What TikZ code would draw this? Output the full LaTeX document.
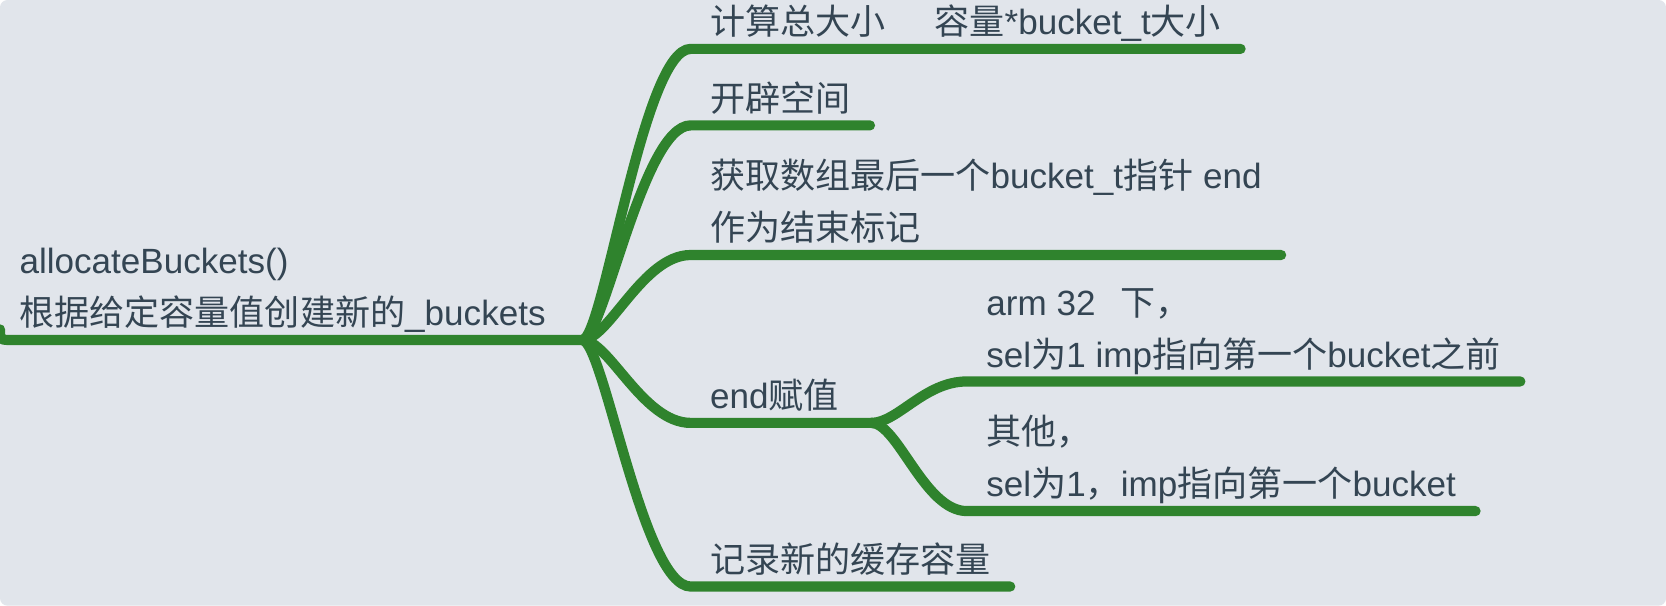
\documentclass[tikz,border=0pt]{standalone}
\usepackage{fontspec}
\setmainfont{Liberation Sans}
\newfontfamily\cjk{Noto Sans CJK SC}
\usepackage{xcolor}
\usepackage{tikz}

\definecolor{bgc}{RGB}{225,229,235}
\definecolor{branchc}{RGB}{47,131,45}
\definecolor{textc}{RGB}{52,69,83}

\begin{document}
\begin{tikzpicture}[x=0.5pt, y=-0.5pt,
		branch/.style={line width=4.8pt, branchc, line cap=round},
		topic/.style={anchor=south west, inner xsep=9pt, inner ysep=3.5pt, text depth=3pt, align=left, text=textc, font=\fontsize{16.5}{24.5}\selectfont}]
				% Background
				\fill[white] (0,0) rectangle (1568,570);
				\fill[bgc, rounded corners=3.5pt] (0,0) rectangle (1568,570);
				\useasboundingbox (0,0) rectangle (1568,570);
				
				% Root topic
				\node[topic] (root) at (0,320) {allocateBuckets()\\{\cjk 根据给定容量值创建新的}\_buckets};
				\coordinate (J) at (548,320);
				
				% Main topics
				\node[topic] (size) at (650,46) {{\cjk 计算总大小}\hspace{1.4em}{\cjk 容量}*bucket\_t{\cjk 大小}};
				\node[topic] (alloc) at (650,118) {{\cjk 开辟空间}};
				\node[topic] (endptr) at (650,240) {{\cjk 获取数组最后一个}bucket\_t{\cjk 指针} end\\{\cjk 作为结束标记}};
				\node[topic] (assign) at (650,398) {end{\cjk 赋值}};
				\coordinate (K) at (820,398);
				\node[topic] (record) at (650,552) {{\cjk 记录新的缓存容量}};
				
				% Sub topics of end
				\node[topic] (arm) at (910,359) {arm 32\hspace{0.7em}{\cjk 下，}\\sel{\cjk 为}1 imp{\cjk 指向第一个}bucket{\cjk 之前}};
				\node[topic] (other) at (910,481) {{\cjk 其他，}\\sel{\cjk 为}1{\cjk ，}imp{\cjk 指向第一个}bucket};
				
				% Root line
				\draw[branch] ([yshift=5pt]root.south west) .. controls (root.south west) .. ([xshift=6pt]root.south west) -- (J);
				
				% Branches
				\draw[branch] (J) .. controls +(20,0) and +(-45,0) .. (size.south west) -- (size.south east);
				\draw[branch] (J) .. controls +(20,0) and +(-45,0) .. (alloc.south west) -- (alloc.south east);
				\draw[branch] (J) .. controls +(25,0) and +(-45,0) .. (endptr.south west) -- (endptr.south east);
				\draw[branch] (J) .. controls +(25,0) and +(-45,0) .. (assign.south west) -- (K);
				\draw[branch] (J) .. controls +(20,0) and +(-45,0) .. (record.south west) -- (record.south east);
				\draw[branch] (K) .. controls +(25,0) and +(-40,0) .. (arm.south west) -- (arm.south east);
				\draw[branch] (K) .. controls +(25,0) and +(-40,0) .. (other.south west) -- (other.south east);
\end{tikzpicture}
\end{document}
